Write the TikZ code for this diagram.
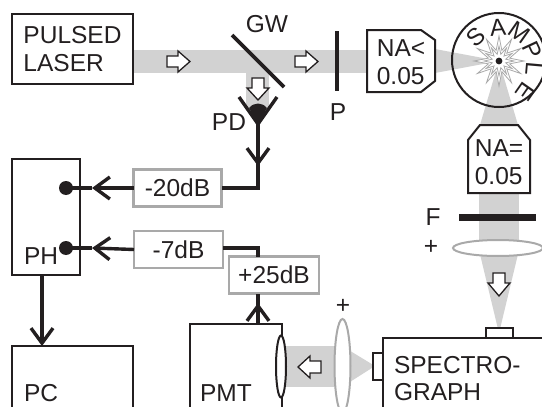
\documentclass[tikz,border=0pt]{standalone}
\usepackage{fontspec}
\setmainfont{Liberation Sans}
\usetikzlibrary{arrows.meta,calc}
\definecolor{ink}{HTML}{231F20}
\definecolor{beam}{HTML}{D2D2D2}
\definecolor{frame}{HTML}{A9A9A9}
\tikzset{
 lbl/.style={font=\fontsize{24.5}{27.5}\selectfont,text=ink,inner sep=0pt,outer sep=0pt},
 blk/.style={draw=ink,line width=2pt,fill=white,inner sep=0pt,outer sep=0pt,anchor=north west,lbl},
 gain/.style={draw=frame,line width=2.6pt,fill=white,inner sep=0pt,outer sep=0pt,lbl},
 sig/.style={draw=ink,line width=3.4pt},
 vee/.style={sig,-{Straight Barb[length=15pt,width=22pt]}},
 beamfill/.style={fill=beam,draw=none},
 hollow/.style={draw=ink,line width=1.3pt,fill=white,line join=miter},
 bar/.style={draw=ink,line width=3.6pt},
 smp/.style={font=\fontsize{24}{28}\selectfont,text=ink,inner sep=0pt},
}
\begin{document}
\begin{tikzpicture}[x=1pt,y=-1pt]
\useasboundingbox (0,0) rectangle (542,407);
\fill[white] (0,0) rectangle (542,407);
\clip (0,0) rectangle (542,407);
% beams
\fill[beamfill] (133,50) rectangle (367,73);
\fill[beamfill] (246,73) rectangle (269,108);
\fill[beamfill] (435,49) -- (499,61) -- (435,73) -- cycle;
\fill[beamfill] (480,125) -- (499,61) -- (518,125) -- cycle;
\fill[beamfill] (479,193) rectangle (519,250);
\fill[beamfill] (479,250) -- (519,250) -- (500,329) -- (498,329) -- cycle;
\fill[beamfill] (282,346) rectangle (342,387);
\fill[beamfill] (342,346) -- (375,366) -- (342,387) -- cycle;
% blocks
\node[blk,minimum width=121pt,minimum height=70pt,align=left] (laser) at (12,14) {PULSED\\LASER};
\node[blk,minimum width=68pt,minimum height=116pt] (ph) at (12,159) {};
\node[blk,minimum width=121pt,minimum height=70pt] (pc) at (12,346) {};
\node[blk,minimum width=92pt,minimum height=90pt] (pmt) at (190,324) {};
\node[blk,minimum width=170pt,minimum height=80pt] (spec) at (383,338) {};
\node[blk,minimum width=27pt,minimum height=10pt] (slitA) at (486,328) {};
\node[blk,minimum width=10pt,minimum height=27pt] (slitB) at (373,353) {};
\node[lbl,anchor=base west] (phl) at (24,264) {PH};
\node[lbl,anchor=base west] (pcl) at (24,401) {PC};
\node[lbl,anchor=base west] (pmtl) at (200,401) {PMT};
\node[lbl,anchor=base west] (sp1) at (394,373) {SPECTRO-};
\node[lbl,anchor=base west] (sp2) at (394,400) {GRAPH};
% sample
\draw[ink,line width=2pt] (499,60) circle (47);
\foreach \n/\x/\y/\r/\t in {s1/476/37/42/S,s2/498/28/5/A,s3/519/32/-35/M,s4/532.5/50/-65/P,s5/534/69/-95/L,s6/526/92/-125/E}{
 \node[smp,rotate=\r] (\n) at (\x,\y) {\t};
}
% star
\foreach \R/\I/\c in {25/11/frame,15/7/frame}{
 \draw[\c,line width=.8pt,fill=white] ($(499,61)+(0:\R)$)
  \foreach \a in {15,45,...,345}{ -- ($(499,61)+(\a:\I)$) -- ($(499,61)+(\a+15:\R)$) } -- cycle;
}
\fill[ink] (499,61) circle (3.4);
\coordinate (sc) at (499,61);
% NA boxes
\draw[ink,line width=2pt,fill=white] (367,30) -- (421,30) -- (435,40) -- (435,81) -- (421,92) -- (367,92) -- cycle;
\node[lbl,align=left] (nal) at (401,62) {NA<\\0.05};
\draw[ink,line width=2pt,fill=white] (480,125) -- (518,125) -- (530,140) -- (530,193) -- (468,193) -- (468,140) -- cycle;
\node[lbl,align=left] (nae) at (499,162) {NA=\\0.05};
% optics
\draw[bar] (232,35) -- (284,87);
\draw[bar] (337,31) -- (337,91);
\fill[ink] (459,214) rectangle (536,221);
\draw[frame,line width=2pt,fill=white] (498,248) ellipse (45 and 8);
\draw[frame,line width=2pt,fill=white] (342.5,366) ellipse (8 and 47);
\draw[ink,line width=2pt,fill=white] (281,366.5) ellipse (5 and 31);
\node[lbl] (gw) at (267,24) {GW};
\node[lbl] (pl) at (338,112) {P};
\node[lbl,anchor=base east] (pdl) at (246,130) {PD};
\node[lbl] (fl) at (433,217) {F};
\node[lbl] (pa) at (431,247) {+};
\node[lbl] (pb) at (343,306) {+};
% photodiode
\draw[ink,line width=3.4pt,line join=miter] (239,97) -- (258,124) -- (277,97);
\fill[ink] (249,108) .. controls (254,102) and (262,102) .. (267,108) -- (258,124) -- cycle;
\coordinate (pd) at (258,124);
% hollow arrows
\draw[hollow] (167,56) -- (178,56) -- (178,51) -- (190,61.5) -- (178,72) -- (178,67) -- (167,67) -- cycle;
\draw[hollow] (295,56) -- (306,56) -- (306,51) -- (318,61.5) -- (306,72) -- (306,67) -- (295,67) -- cycle;
\draw[hollow] (252,78) -- (264,78) -- (264,88) -- (269,88) -- (258,100) -- (247,88) -- (252,88) -- cycle;
\draw[hollow] (493,273) -- (505,273) -- (505,283) -- (510,283) -- (499,296) -- (488,283) -- (493,283) -- cycle;
\draw[hollow] (321,361) -- (310,361) -- (310,356) -- (298,367) -- (310,378) -- (310,373) -- (321,373) -- cycle;
% gains
\node[gain,minimum width=88pt,minimum height=37pt] (a) at (177.5,188) {-20dB};
\node[gain,minimum width=89pt,minimum height=37pt] (b) at (178.5,249.5) {-7dB};
\node[gain,minimum width=90pt,minimum height=37pt] (c) at (274,275) {+25dB};
% connectors
\fill[ink] (66,188) circle (7) coordinate (da);
\fill[ink] (66,248) circle (7) coordinate (db);
\coordinate (ta) at (92,188);
\coordinate (tb) at (92,248);
\coordinate (tc) at (258,166);
\coordinate (corner) at (258,188);
\coordinate (cornerb) at (258,248);
\coordinate (td) at (258,303);
\draw[sig] (pd) -- (corner) -- (a.east);
\draw[vee] (pd) -- (tc);
\draw[vee] (a.west) -- (ta);
\draw[sig] (ta) -- (da);
\draw[vee] (b.west) -- (tb);
\draw[sig] (tb) -- (db);
\draw[sig] (b.east |- cornerb) -- (cornerb) -- (c.north -| cornerb);
\draw[sig] (pmt.north -| td) -- (c.south -| td);
\draw[vee] (pmt.north -| td) -- (td);
\draw[vee] (ph.south -| 42,0) -- (pc.north -| 42,0);
\end{tikzpicture}
\end{document}
